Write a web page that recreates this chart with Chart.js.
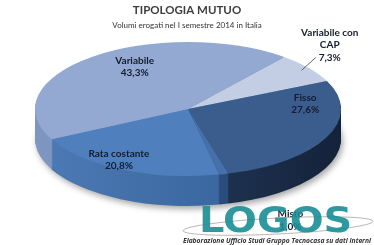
<!DOCTYPE html>
<html>
<head>
<meta charset="utf-8">
<script src="https://cdn.jsdelivr.net/npm/chart.js@4"></script>
<style>
  html, body { margin: 0; padding: 0; background: #fff; }
</style>
</head>
<body>
<canvas id="myChart" width="374" height="245"></canvas>
<script>
const categories = [['Variabile con', 'CAP'], 'Fisso', 'Misto', 'Rata costante', 'Variabile'];
const values = [7.3, 27.6, 1.0, 20.8, 43.3];

// colours of the top face and of the side (left -> right)
const topColors = ['#c3cee4', '#3a5d8d', '#4670a9', '#4f80bd', '#93a9d1'];
const sideColors = [
    ['#9aaac8', '#8495b8'],
    ['#2c4a74', '#142239'],
    ['#35609a', '#22406a'],
    ['#4e7bb5', '#2f5a93'],
    ['#7f96c0', '#6d84b0']
];

// ellipse geometry of the "3D" pie
const CX = 188, CY = 109, RX = 153, RY = 67, DEPTH = 30;

// where each label sits: fraction of radius and a small angle turn (deg)
const labelPlace = [
    { k: 1.33, turn: -8 },
    { k: 0.77, turn: -31 },
    { k: 1.79, turn: -8.4 },
    { k: 0.885, turn: 5 },
    { k: 0.72, turn: 10 }
];

const fmt = v => v.toFixed(1).replace('.', ',') + '%';

const pie3d = {
    id: 'pie3d',
    beforeDatasetsDraw(chart) {
        const ctx = chart.ctx;
        const arcs = chart.getDatasetMeta(0).data;
        const R = arcs[0].outerRadius;
        const ox = arcs[0].x, oy = arcs[0].y;
        ctx.save();
        ctx.translate(CX, CY);
        ctx.scale(RX / R, RY / R);
        ctx.translate(-ox, -oy);
        const k = R / RY;
        for (let d = DEPTH; d >= 1; d--) {
            arcs.forEach((arc, i) => {
                const g = ctx.createLinearGradient(ox - R, 0, ox + R, 0);
                g.addColorStop(0, sideColors[i][0]);
                g.addColorStop(1, sideColors[i][1]);
                ctx.save();
                if (d === DEPTH) {
                    ctx.shadowColor = 'rgba(0,0,0,0.35)';
                    ctx.shadowBlur = 6;
                    ctx.shadowOffsetX = 2;
                    ctx.shadowOffsetY = 3;
                }
                ctx.fillStyle = g;
                ctx.beginPath();
                ctx.moveTo(ox, oy + d * k);
                ctx.arc(ox, oy + d * k, R, arc.startAngle, arc.endAngle);
                ctx.closePath();
                ctx.fill();
                ctx.restore();
            });
        }
    },
    afterDatasetsDraw(chart) {
        chart.ctx.restore();
    },
    afterDraw(chart) {
        const ctx = chart.ctx;
        const arcs = chart.getDatasetMeta(0).data;
        ctx.save();
        ctx.textAlign = 'center';
        ctx.textBaseline = 'middle';
        ctx.font = 'bold 10px Lato';
        ctx.fillStyle = '#141c2e';
        arcs.forEach((arc, i) => {
            const p = labelPlace[i];
            const a = (arc.startAngle + arc.endAngle) / 2 + p.turn * Math.PI / 180;
            const x = CX + RX * p.k * Math.cos(a);
            const y = CY + RY * p.k * Math.sin(a);
            const name = Array.isArray(categories[i]) ? categories[i] : [categories[i]];
            const lines = name.concat([fmt(values[i])]);
            const lh = 12.5;
            lines.forEach((t, j) => {
                ctx.fillText(t, x, y + (j - (lines.length - 1) / 2) * lh);
            });
            if (i === 0) {
                // leader line for the small outside label
                const m = (arc.startAngle + arc.endAngle) / 2;
                ctx.strokeStyle = '#404040';
                ctx.lineWidth = 0.8;
                ctx.beginPath();
                ctx.moveTo(CX + RX * 0.94 * Math.cos(m), CY + RY * 0.94 * Math.sin(m));
                ctx.lineTo(x - 14, y + lh);
                ctx.stroke();
            }
        });

        // watermark + source note
        ctx.globalAlpha = 0.9;
        ctx.strokeStyle = '#9a9a9a';
        ctx.lineWidth = 0.8;
        ctx.beginPath();
        ctx.ellipse(278, 226, 95, 8, -0.05, 0, Math.PI * 2);
        ctx.stroke();
        ctx.save();
        ctx.translate(199, 232);
        ctx.scale(1.14, 1);
        ctx.font = 'bold 35px "DejaVu Sans"';
        ctx.fillStyle = '#1a8e95';
        ctx.textAlign = 'left';
        ctx.textBaseline = 'alphabetic';
        ctx.fillText('LOGOS', 0, 0);
        ctx.restore();
        ctx.globalAlpha = 1;
        ctx.font = 'italic bold 7px "Open Sans"';
        ctx.fillStyle = '#333';
        ctx.textAlign = 'right';
        ctx.fillText('Elaborazione Ufficio Studi Gruppo Tecnocasa su dati interni', 371, 241, 188);
        ctx.restore();
    }
};

const ctx = document.getElementById('myChart').getContext('2d');
const myChart = new Chart(ctx, {
    type: 'pie',
    data: {
        labels: categories,
        datasets: [{
            data: values,
            backgroundColor: topColors,
            borderWidth: 0,
            clip: false
        }]
    },
    options: {
        responsive: false,
        animation: false,
        devicePixelRatio: 1,
        rotation: 39,
        plugins: {
            legend: { display: false },
            tooltip: { enabled: false },
            title: {
                display: true,
                text: 'TIPOLOGIA MUTUO',
                color: '#3d3d3d',
                font: { family: 'Lato', size: 11.5, weight: 'bold' },
                padding: { top: 3, bottom: 4 }
            },
            subtitle: {
                display: true,
                text: 'Volumi erogati nel I semestre 2014 in Italia',
                color: '#333',
                font: { family: 'Lato', size: 8 },
                padding: { bottom: 4 }
            }
        }
    },
    plugins: [pie3d]
});
</script>
</body>
</html>
